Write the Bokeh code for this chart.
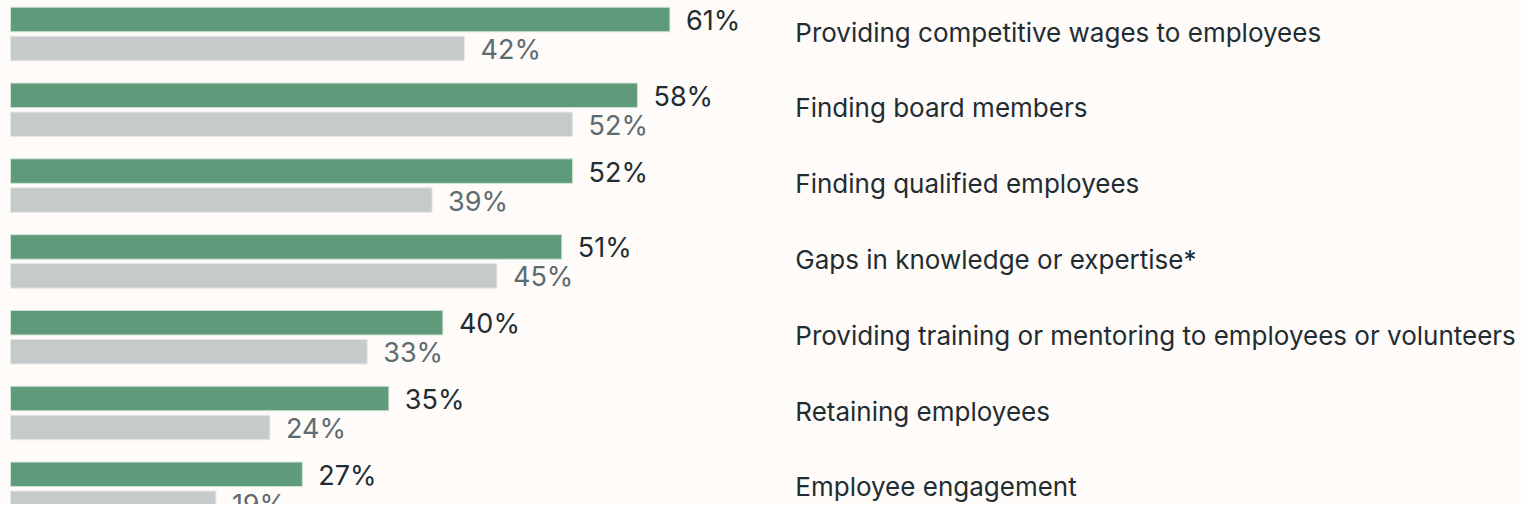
from bokeh.plotting import figure
from bokeh.models import Range1d, ColumnDataSource
from bokeh.core.properties import value
from bokeh.embed import file_html
from bokeh.resources import INLINE

categories = [
    "Providing competitive wages to employees",
    "Finding board members",
    "Finding qualified employees",
    "Gaps in knowledge or expertise*",
    "Providing training or mentoring to employees or volunteers",
    "Retaining employees",
    "Employee engagement",
]
green_values = [61, 58, 52, 51, 40, 35, 27]
gray_values = [42, 52, 39, 45, 33, 24, 19]

BG = "#fefbf8"
GREEN = "#5f9b7b"
GRAY = "#c6cacb"
DARK = "#1f2d33"
GRAYTXT = "#5d6b72"
FONT = "Inter"

W, H = 1521, 504
px_per_unit = 10.81
x0 = -10 / px_per_unit
x1 = x0 + W / px_per_unit
unit = 75.8
y_top = -33.5 / unit
y_bot = y_top + H / unit

p = figure(width=W, height=H, output_backend="svg", toolbar_location=None,
           x_range=Range1d(x0, x1), y_range=Range1d(y_bot, y_top),
           min_border=0, min_border_left=0, min_border_right=0,
           min_border_top=0, min_border_bottom=0)
p.axis.visible = False
p.grid.visible = False
p.outline_line_color = None
p.background_fill_color = BG
p.border_fill_color = BG

idx = list(range(len(categories)))
off = 14.5 / unit
bh = 24.5 / unit
src = ColumnDataSource(dict(
    yg=[i - off for i in idx], yr=[i + off for i in idx], yc=idx,
    g=green_values, r=gray_values, cat=categories,
    gl=[f"{v}%" for v in green_values], rl=[f"{v}%" for v in gray_values],
))

p.hbar(y="yg", left=0, right="g", height=bh, source=src,
       fill_color=GREEN, line_color="#cfe3d6", line_width=1)
p.hbar(y="yr", left=0, right="r", height=bh, source=src,
       fill_color=GRAY, line_color="#e6e8e8", line_width=1)

p.text(x="g", y="yg", text="gl", source=src, x_offset=16, y_offset=1,
       text_font=value(FONT), text_font_size="27px", text_color=DARK,
       text_baseline="middle", text_align="left")
p.text(x="r", y="yr", text="rl", source=src, x_offset=16, y_offset=1,
       text_font=value(FONT), text_font_size="27px", text_color=GRAYTXT,
       text_baseline="middle", text_align="left")
p.text(x=72.6, y="yc", text="cat", source=src, y_offset=-2,
       text_font=value(FONT), text_font_size="26px", text_color=DARK,
       text_baseline="middle", text_align="left")

open("out.html", "w").write(file_html(p, INLINE))
